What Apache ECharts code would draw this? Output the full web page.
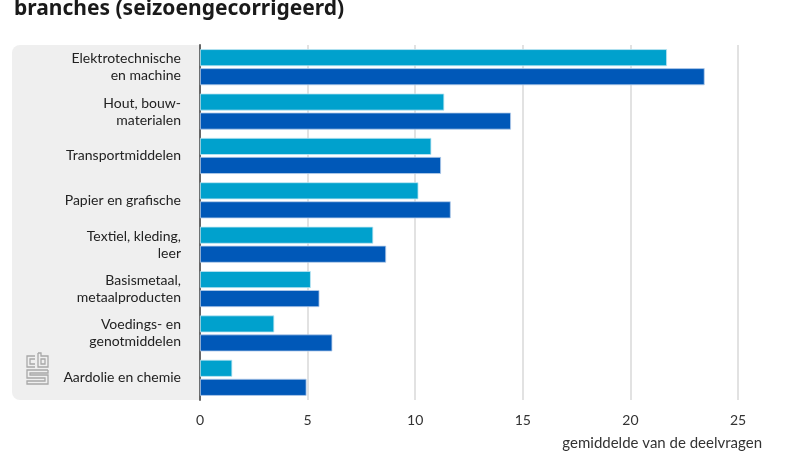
<!DOCTYPE html>
<html>
<head>
<meta charset="utf-8">
<script src="https://cdn.jsdelivr.net/npm/echarts@6/dist/echarts.min.js"></script>
<style>
html,body{margin:0;padding:0;background:#fff;}
#chart{width:800px;height:475px;}
</style>
</head>
<body>
<div id="chart"></div>
<script>
const titleText = 'branches (seizoengecorrigeerd)';
const categories = [
  'Elektrotechnische\nen machine',
  'Hout, bouw-\nmaterialen',
  'Transportmiddelen',
  'Papier en grafische',
  'Textiel, kleding,\nleer',
  'Basismetaal,\nmetaalproducten',
  'Voedings- en\ngenotmiddelen',
  'Aardolie en chemie'
];
const seriesAName = 'Reeks 1';
const seriesAValues = [21.7, 11.35, 10.75, 10.15, 8.05, 5.15, 3.45, 1.5];
const seriesBName = 'Reeks 2';
const seriesBValues = [23.45, 14.45, 11.2, 11.65, 8.65, 5.55, 6.15, 4.95];
const xTicks = [0, 5, 10, 15, 20, 25];
const xAxisName = 'gemiddelde van de deelvragen';

const chart = echarts.init(document.getElementById('chart'), null, {renderer: 'canvas'});
const FONT = 'Lato, "Noto Sans", sans-serif';

const logoStyle = {stroke: '#a8a8a8', lineWidth: 1.3, fill: null};
const option = {
  backgroundColor: '#ffffff',
  animation: false,
  title: {
    text: titleText,
    left: 9,
    top: -6,
    textStyle: {fontFamily: '"Noto Sans", sans-serif', fontSize: 21, fontWeight: 'bold', color: '#1a1a1a'}
  },
  graphic: [
    {type: 'rect', z: -10, silent: true,
     shape: {x: 12, y: 45, width: 188, height: 355, r: [8, 0, 0, 8]},
     style: {fill: '#efefef'}},
    // CBS logo
    {type: 'polyline', z: -5, silent: true, shape: {points: [[35,356],[27,356],[27,367],[35,367]]}, style: logoStyle},
    {type: 'polyline', z: -5, silent: true, shape: {points: [[35,359],[30,359],[30,364],[35,364]]}, style: logoStyle},
    {type: 'polyline', z: -5, silent: true, shape: {points: [[38,353],[38,367],[48,367],[48,356],[41,356],[41,353],[38,353]]}, style: logoStyle},
    {type: 'rect', z: -5, silent: true, shape: {x: 41, y: 359, width: 4, height: 5}, style: logoStyle},
    {type: 'polyline', z: -5, silent: true, shape: {points: [[48,370],[27,370],[27,378],[45,378],[45,381],[27,381],[27,384],[48,384],[48,375],[30,375],[30,373],[48,373],[48,370]]}, style: logoStyle}
  ],
  grid: {left: 200, right: 62, top: 45, bottom: 75, containLabel: false},
  xAxis: {
    type: 'value',
    min: 0, max: 25, interval: 5,
    axisLine: {show: false},
    axisTick: {show: false},
    splitLine: {show: true, lineStyle: {color: '#e2e2e2', width: 2}},
    axisLabel: {
      margin: 13, color: '#333', fontFamily: FONT, fontSize: 14,
      formatter: v => xTicks.includes(v) ? String(v) : ''
    },
    name: xAxisName,
    nameLocation: 'end',
    nameGap: 24,
    nameTextStyle: {align: 'right', verticalAlign: 'top', padding: [36, 0, 0, 0], color: '#333', fontFamily: FONT, fontSize: 15}
  },
  yAxis: {
    type: 'category',
    data: categories,
    inverse: true,
    axisLine: {show: true, lineStyle: {color: '#666', width: 2}},
    axisTick: {show: false},
    axisLabel: {margin: 19, color: '#222', fontFamily: FONT, fontSize: 14, lineHeight: 17, align: 'right'}
  },
  series: [
    {name: seriesAName, type: 'bar', data: seriesAValues, barWidth: 17, barGap: '12%',
     itemStyle: {color: '#00a1cd', borderColor: '#bfe6f2', borderWidth: 0.8}},
    {name: seriesBName, type: 'bar', data: seriesBValues, barWidth: 17, barGap: '12%',
     itemStyle: {color: '#0058b8', borderColor: '#b5cdea', borderWidth: 0.8}}
  ]
};
chart.setOption(option);
</script>
</body>
</html>
